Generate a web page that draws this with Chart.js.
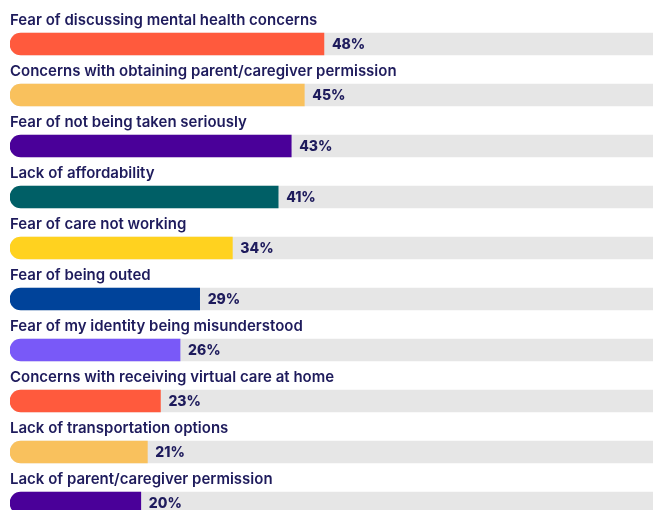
<!DOCTYPE html>
<html>
<head>
<meta charset="utf-8">
<script src="https://cdn.jsdelivr.net/npm/chart.js@4/dist/chart.umd.min.js"></script>
<style>
html,body{margin:0;padding:0;background:#fff;overflow:hidden;width:653px;height:510px;}
#wrap{position:absolute;left:0;top:0;width:664px;height:530px;}
</style>
</head>
<body>
<div id="wrap"><canvas id="c" width="664" height="530"></canvas></div>
<script>
const categories = [
  "Fear of discussing mental health concerns",
  "Concerns with obtaining parent/caregiver permission",
  "Fear of not being taken seriously",
  "Lack of affordability",
  "Fear of care not working",
  "Fear of being outed",
  "Fear of my identity being misunderstood",
  "Concerns with receiving virtual care at home",
  "Lack of transportation options",
  "Lack of parent/caregiver permission"
];
const values = [48, 45, 43, 41, 34, 29, 26, 23, 21, 20];
const trackValues = [100, 100, 100, 100, 100, 100, 100, 100, 100, 100];
const barColors = ["#FF5A3D", "#F9C15D", "#4A0099", "#005F66", "#FFD21F", "#00439A", "#7959F8", "#FF5A3D", "#F9C15D", "#4A0099"];
const valueLabels = values.map(v => v + "%");

const TEXT = "#1E1B5C";

const labelsPlugin = {
  id: "labelsPlugin",
  afterDatasetsDraw(chart) {
    const ctx = chart.ctx;
    const meta = chart.getDatasetMeta(0);
    ctx.save();
    meta.data.forEach((bar, i) => {
      const h = bar.height;
      const top = bar.y - h / 2;
      ctx.fillStyle = TEXT;
      ctx.font = "600 15px Inter";
      ctx.textAlign = "left";
      ctx.textBaseline = "alphabetic";
      ctx.fillText(categories[i], 10, top - 8);
      ctx.font = "800 14px Inter";
      ctx.textBaseline = "middle";
      ctx.fillText(valueLabels[i], bar.x + 8, bar.y + 1);
    });
    ctx.restore();
  }
};

new Chart(document.getElementById("c"), {
  type: "bar",
  data: {
    labels: categories,
    datasets: [
      {
        data: values,
        backgroundColor: barColors,
        borderWidth: 0,
        borderSkipped: false,
        borderRadius: {topLeft: 11, bottomLeft: 11, topRight: 0, bottomRight: 0},
        barThickness: 22,
        grouped: false,
        order: 1
      },
      {
        data: trackValues,
        backgroundColor: "#E6E6E6",
        borderWidth: 0,
        borderSkipped: false,
        borderRadius: {topLeft: 11, bottomLeft: 11, topRight: 0, bottomRight: 0},
        barThickness: 22,
        grouped: false,
        order: 2
      }
    ]
  },
  options: {
    indexAxis: "y",
    responsive: false,
    animation: false,
    devicePixelRatio: 1,
    layout: {padding: {left: 10, right: 0, top: 18.5, bottom: 1.5}},
    plugins: {legend: {display: false}, tooltip: {enabled: false}},
    scales: {
      x: {display: false, min: 0, max: 100},
      y: {display: false, offset: true}
    }
  },
  plugins: [labelsPlugin]
});
</script>
</body>
</html>
